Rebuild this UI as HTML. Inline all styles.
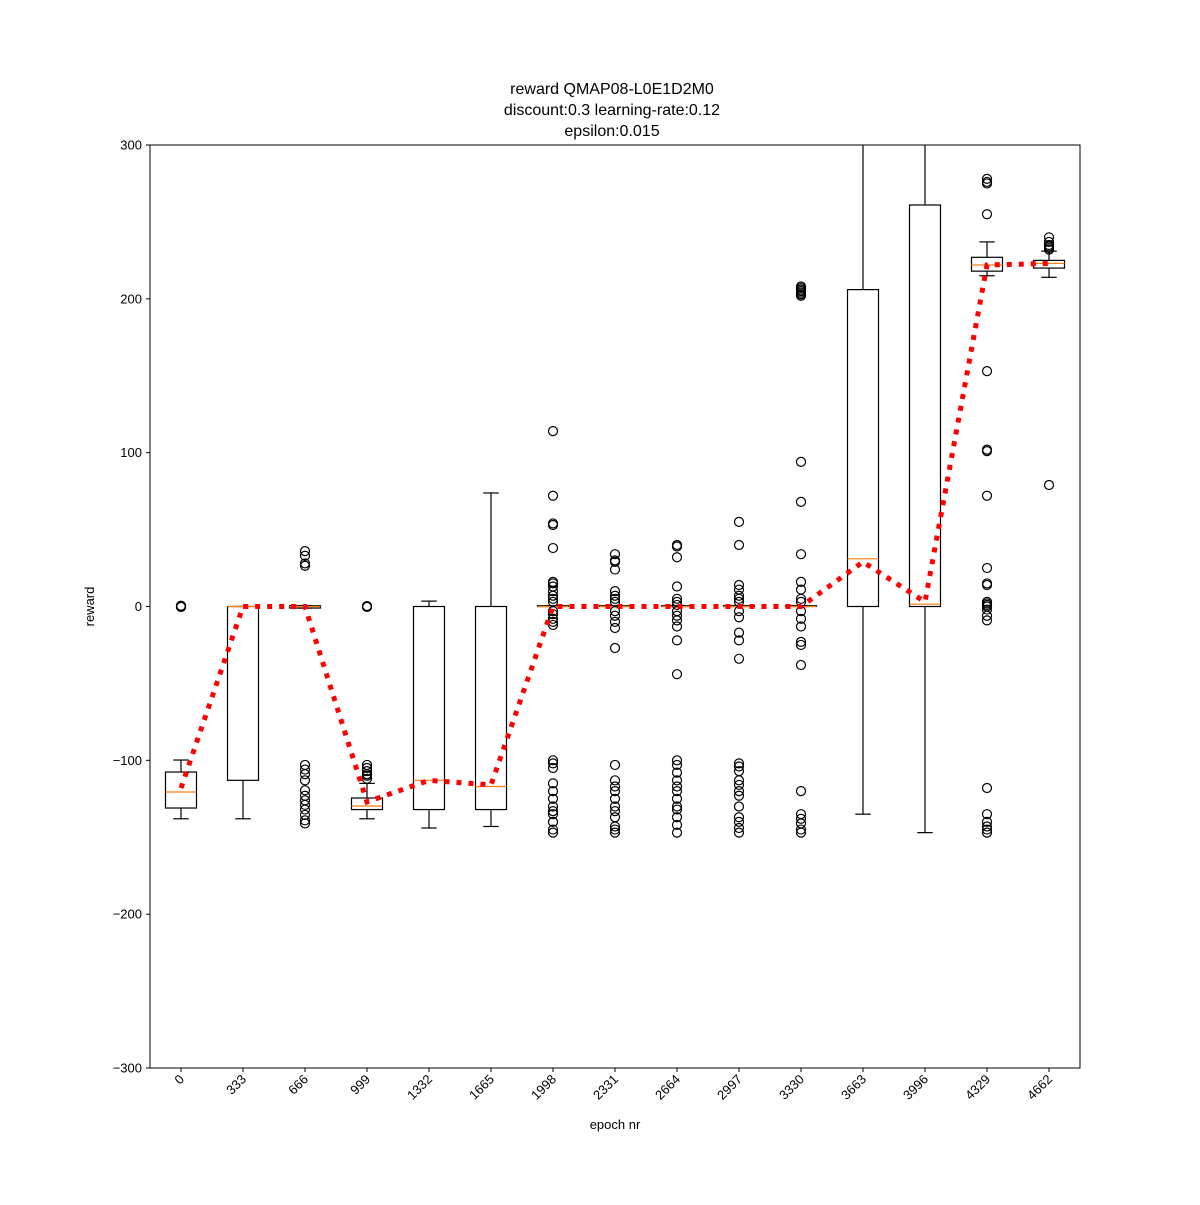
<!DOCTYPE html>
<html><head><meta charset="utf-8"><style>
body{margin:0;background:#fff;}
text{font-family:"Liberation Sans","DejaVu Sans",sans-serif;}
</style></head><body>
<svg id="chart" width="1200" height="1200" xmlns="http://www.w3.org/2000/svg">
<rect width="1200" height="1200" fill="#fff"/>
<g font-size="16" text-anchor="middle" fill="#000">
<text x="612" y="94">reward QMAP08-L0E1D2M0</text>
<text x="612" y="115">discount:0.3 learning-rate:0.12</text>
<text x="612" y="136">epsilon:0.015</text>
</g>
<defs><clipPath id="plotclip"><rect x="150" y="145" width="930" height="923"/></clipPath></defs>
<g id="boxes" clip-path="url(#plotclip)"></g>
<g id="axes"></g>
</svg>
<script>
const categories=["0","333","666","999","1332","1665","1998","2331","2664","2997","3330","3663","3996","4329","4662"];
const q1=[-131,-113,-1,-132,-132,-132,0,0,0,0,0,0,0,218,220];
const q3=[-107.6,0,0.5,-124.5,0,0,0.5,0.5,0.5,0.5,0.5,206,261,227,225];
const medians=[-120.6,0,0,-129.7,-113,-117,0,0,0,0,0,31,1.5,222,223];
const whiskLow=[-138,-138,-1,-138,-144,-143,0,0,0,0,0,-135,-147,215,214];
const whiskHigh=[-99.8,0,0.5,-115,3.5,73.8,0.5,0.5,0.5,0.5,0.5,320,320,237,231];
const means=[-118,0,0,-127,-113,-116,0,0,0,0,0,29,3,222,223];
const outliers=[
[0,0.3,-0.3,0.5],
[],
[36,33,28,26.5,-103,-106,-109,-113,-119.5,-123,-126,-129,-132,-135.5,-139,-141],
[0,0.3,-0.3,-103,-105,-107,-109,-110,-112],
[],
[],
[114,72,54,53,38,16,15,13,10,7,5,3,-3,-5,-8,-10,-12,-100,-102,-105,-115,-120,-125,-130,-133,-135,-140,-145,-147],
[34,30,29,24,10,7,5,3,-3,-6,-10,-14,-27,-103,-113,-117,-120,-125,-130,-133,-137,-143,-145,-147],
[40,39,32,13,5,3,1,-3,-6,-9,-13,-22,-44,-100,-103,-108,-113,-117,-120,-125,-130,-132,-137,-142,-147],
[55,40,14,11,7,5,3,-3,-7,-17,-22,-34,-102,-104,-107,-113,-116,-120,-123,-130,-137,-140,-144,-147],
[208,207,206,205,204,203,202,94,68,34,16,11,5,3,-3,-8,-13,-23,-25,-38,-120,-135,-138,-141,-145,-147],
[],
[],
[278,276,275,255,153,102,101,72,25,15,14,3,2,1,0,-2,-6,-9,-118,-135,-140,-143,-145,-147],
[240,237,235,234,233,232,79]
];
const yTicks=[-300,-200,-100,0,100,200,300];
const NS="http://www.w3.org/2000/svg";
const L=150,R=1080,T=145,B=1068,ymin=-300,ymax=300;
const step=(R-L)/categories.length;
function xs(i){return L+step*(i+0.5);}
function ys(v){return B-(v-ymin)/(ymax-ymin)*(B-T);}
function mk(tag,attrs,parent){const e=document.createElementNS(NS,tag);for(const k in attrs)e.setAttribute(k,attrs[k]);parent.appendChild(e);return e;}
const gb=document.getElementById('boxes'),ga=document.getElementById('axes');
const bw=31;
categories.forEach((c,i)=>{
  const x=xs(i);
  const g=mk('g',{},gb);
  
  
  mk('line',{x1:x,x2:x,y1:ys(q3[i]),y2:ys(whiskHigh[i]),stroke:'#000','stroke-width':1.2},g);
  mk('line',{x1:x,x2:x,y1:ys(q1[i]),y2:ys(whiskLow[i]),stroke:'#000','stroke-width':1.2},g);
  mk('line',{x1:x-bw/4,x2:x+bw/4,y1:ys(whiskHigh[i]),y2:ys(whiskHigh[i]),stroke:'#000','stroke-width':1.2},g);
  mk('line',{x1:x-bw/4,x2:x+bw/4,y1:ys(whiskLow[i]),y2:ys(whiskLow[i]),stroke:'#000','stroke-width':1.2},g);
  const top=ys(q3[i]),bot=ys(q1[i]);
  mk('rect',{x:x-bw/2,y:top,width:bw,height:Math.max(bot-top,0.5),fill:'none',stroke:'#000','stroke-width':1.2},g);
  mk('line',{x1:x-bw/2,x2:x+bw/2,y1:ys(medians[i]),y2:ys(medians[i]),stroke:'#ff7f0e','stroke-width':1.2},g);
  outliers[i].forEach(v=>{
    const o=mk('circle',{cx:x,cy:ys(v),r:4.5,fill:'none',stroke:'#000','stroke-width':1.2},g);
    
    
  });
});
const pts=means.map((m,i)=>xs(i)+','+ys(m)).join(' ');
const ml=mk('polyline',{points:pts,fill:'none',stroke:'#ff0000','stroke-width':5,'stroke-dasharray':'5,7'},gb);


const frame=mk('rect',{x:L,y:T,width:R-L,height:B-T,fill:'none',stroke:'#000','stroke-width':1},ga);


yTicks.forEach(t=>{
  const y=ys(t);
  mk('line',{x1:L-4,x2:L,y1:y,y2:y,stroke:'#000'},ga);
  const tx=mk('text',{x:L-8,y:y+4.5,'text-anchor':'end','font-size':13},ga);
  tx.textContent=t<0?'\u2212'+Math.abs(t):String(t);
  
  
});
categories.forEach((c,i)=>{
  const x=xs(i);
  mk('line',{x1:x,x2:x,y1:B,y2:B+4,stroke:'#000'},ga);
  const tx=mk('text',{x:x+4,y:B+12,'text-anchor':'end','font-size':13,transform:`rotate(-45 ${x+4} ${B+12})`},ga);
  tx.textContent=c;
  
  
});
const xl=mk('text',{x:(L+R)/2,y:1129,'text-anchor':'middle','font-size':13},ga);
xl.textContent='epoch nr';


const yl=mk('text',{x:94,y:(T+B)/2,'text-anchor':'middle','font-size':13,transform:`rotate(-90 94 ${(T+B)/2})`},ga);
yl.textContent='reward';


</script>
</body></html>
